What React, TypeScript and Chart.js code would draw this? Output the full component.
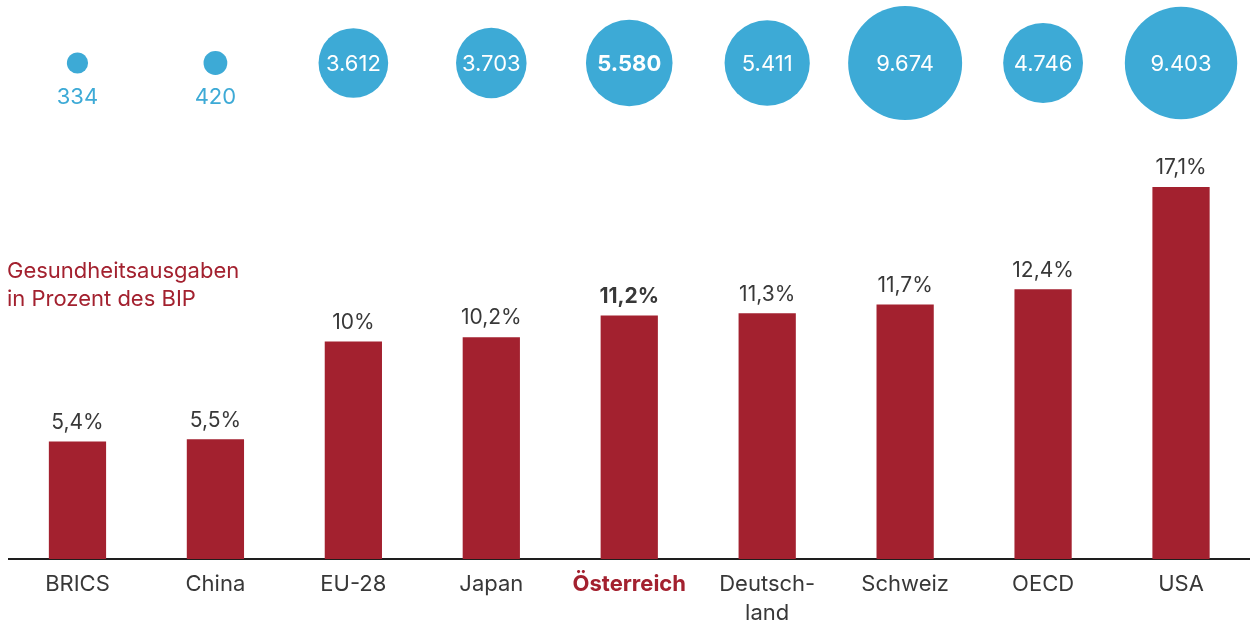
import React, { useEffect, useRef } from "react";
import { Chart, registerables } from "chart.js";

Chart.register(...registerables);

const categories: (string | string[])[] = [
  "BRICS",
  "China",
  "EU-28",
  "Japan",
  "Österreich",
  ["Deutsch-", "land"],
  "Schweiz",
  "OECD",
  "USA",
];
const healthSharePct = [5.4, 5.5, 10, 10.2, 11.2, 11.3, 11.7, 12.4, 17.1];
const perCapitaSpending = [334, 420, 3612, 3703, 5580, 5411, 9674, 4746, 9403];
const highlightIndex = 4;
const titleLines = ["Gesundheitsausgaben", "in Prozent des BIP"];

const RED = "#A3212F";
const BLUE = "#3DAAD6";
const TEXT = "#383838";
const FONT = "Inter, 'Noto Sans', sans-serif";
const MAX_R = 57;
const BUBBLE_ROW = 63;

const fmtPct = (v: number) =>
  (Number.isInteger(v) ? String(v) : v.toFixed(1).replace(".", ",")) + "%";
const fmtThousands = (v: number) =>
  String(v).replace(/\B(?=(\d{3})+(?!\d))/g, ".");

export default function App() {
  const ref = useRef<HTMLCanvasElement | null>(null);

  useEffect(() => {
    if (!ref.current) return;
    const maxV = Math.max(...perCapitaSpending);

    const labelsPlugin = {
      id: "labelsPlugin",
      afterDatasetsDraw(chart: any) {
        const ctx = chart.ctx;
        ctx.save();
        ctx.textAlign = "center";
        ctx.textBaseline = "middle";
        // bar labels
        const barMeta = chart.getDatasetMeta(0);
        barMeta.data.forEach((el: any, i: number) => {
          ctx.fillStyle = TEXT;
          ctx.font = `${i === highlightIndex ? "bold " : ""}21px ${FONT}`;
          ctx.fillText(fmtPct(healthSharePct[i]), el.x, el.y - 19);
        });
        // bubble labels
        const bubMeta = chart.getDatasetMeta(1);
        bubMeta.data.forEach((el: any, i: number) => {
          const r = el.options.radius;
          ctx.font = `${i === highlightIndex ? "bold " : ""}22px ${FONT}`;
          if (r > 25) {
            ctx.fillStyle = "#ffffff";
            ctx.fillText(fmtThousands(perCapitaSpending[i]), el.x, el.y + 1);
          } else {
            ctx.fillStyle = BLUE;
            ctx.fillText(fmtThousands(perCapitaSpending[i]), el.x, el.y + 34);
          }
        });
        // title
        ctx.textAlign = "left";
        ctx.fillStyle = RED;
        ctx.font = `22px ${FONT}`;
        titleLines.forEach((t, k) => ctx.fillText(t, 7, 271 + k * 28));
        ctx.restore();
      },
    };

    const chart = new Chart(ref.current, {
      type: "bar",
      data: {
        labels: categories as any,
        datasets: [
          {
            type: "bar",
            data: healthSharePct,
            backgroundColor: RED,
            categoryPercentage: 1,
            barPercentage: 0.415,
            yAxisID: "y",
            order: 2,
          } as any,
          {
            type: "bubble",
            data: perCapitaSpending.map((v, i) => ({ x: i, y: BUBBLE_ROW, v })),
            backgroundColor: BLUE,
            borderWidth: 0,
            radius: (c: any) => MAX_R * Math.sqrt(perCapitaSpending[c.dataIndex] / maxV),
            hoverRadius: 0,
            yAxisID: "yb",
            order: 1,
          } as any,
        ],
      },
      options: {
        animation: false,
        responsive: true,
        maintainAspectRatio: false,
        events: [],
        layout: { autoPadding: false, padding: { left: 8.5, right: -1.5, top: 0, bottom: 0 } },
        plugins: {
          legend: { display: false },
          tooltip: { enabled: false },
          title: { display: false },
        },
        scales: {
          x: {
            offset: true,
            grid: { display: false, drawTicks: false },
            border: { display: true, color: "#1e1e1e", width: 2 },
            ticks: {
              padding: 11,
              autoSkip: false,
              maxRotation: 0,
              color: (c: any) => (c.index === highlightIndex ? RED : TEXT),
              font: (c: any) => ({
                family: FONT,
                size: 22,
                weight: c.index === highlightIndex ? "bold" : "normal",
                lineHeight: 1.32,
              }),
            },
            afterFit: (scale: any) => {
              scale.height = 63;
            },
          } as any,
          y: {
            display: false,
            min: 0,
            max: 25.7,
          },
          yb: {
            display: false,
            reverse: true,
            min: 0,
            max: 559,
          },
        },
      } as any,
      plugins: [labelsPlugin],
    });
    return () => chart.destroy();
  }, []);

  return (
    <div style={{ position: "fixed", left: 0, top: 0, width: 1250, height: 622, background: "#fff" }}>
      <canvas ref={ref} />
    </div>
  );
}
